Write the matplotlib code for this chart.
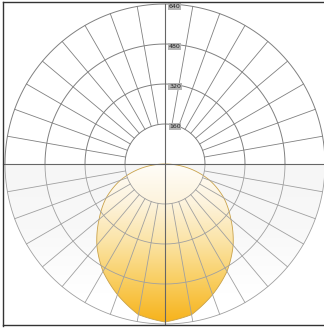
import numpy as np
import matplotlib
matplotlib.use("Agg")
import matplotlib.pyplot as plt
from matplotlib.patches import Polygon, Circle
from matplotlib.colors import LinearSegmentedColormap

# Polar luminous intensity data (cd/klm), symmetric about the nadir
angles_deg = [0, 10, 20, 30, 40, 50, 60, 70, 80, 90]
intensity = [632, 612, 556, 496, 424, 344, 272, 190, 96, 0]
ring_values = [160, 320, 480, 640]
ring_labels = ["160", "320", "480", "640"]
spoke_step = 10

fig = plt.figure(figsize=(3.24, 3.28), dpi=100)
ax = fig.add_axes([0, 0, 1, 1])
ax.set_xlim(-660, 636)
ax.set_ylim(-656, 656)
ax.set_aspect('auto')
ax.axis('off')

R = ring_values[-1]

# faint grey backdrop on lower half, fading downward
outer_clip = Circle((0, 0), R, transform=ax.transData)
fade = LinearSegmentedColormap.from_list('fade', ['#f6f6f6', '#f8f8f8', '#ffffff'])
bgimg = ax.imshow(np.linspace(0, 1, 128).reshape(-1, 1), extent=[-R, R, -520, 0],
                  origin='upper', cmap=fade, aspect='auto', zorder=0)
bgimg.set_clip_path(outer_clip)

# photometric curve (mirror to both sides)
th = np.deg2rad(np.array(angles_deg))
I = np.array(intensity)
th_full = np.concatenate([-th[::-1], th[1:]])
I_full = np.concatenate([I[::-1], I[1:]])
tf = np.linspace(th_full[0], th_full[-1], 361)
If = np.interp(tf, th_full, I_full)
xs = If * np.sin(tf)
ys = -If * np.cos(tf)
poly = Polygon(np.column_stack([xs, ys]), closed=True, facecolor='none',
               edgecolor='#c9a24a', lw=0.6, zorder=3)
ax.add_patch(poly)

cmap = LinearSegmentedColormap.from_list(
    'sol', ['#fffdf8', '#fdf3dc', '#fbe3a4', '#f9cd5e', '#f7b31c'])
grad = np.linspace(0, 1, 256).reshape(-1, 1)
img = ax.imshow(grad, extent=[-300, 300, -I.max(), 0], origin='upper',
                cmap=cmap, aspect='auto', zorder=2)
img.set_clip_path(poly)

# grid: rings
tt = np.linspace(0, 2 * np.pi, 721)
up = tt <= np.pi
for rv in ring_values:
    ax.plot(rv * np.cos(tt[up]), rv * np.sin(tt[up]), color='#808080', lw=0.7, zorder=4)
    ax.plot(rv * np.cos(tt[~up]), rv * np.sin(tt[~up]), color='#a0a0a0', lw=0.6, zorder=4)

# spokes
for a in range(0, 360, spoke_step):
    ar = np.deg2rad(a)
    c = '#808080' if 0 <= a <= 180 else '#a0a0a0'
    ax.plot([ring_values[0] * np.cos(ar), R * np.cos(ar)],
            [ring_values[0] * np.sin(ar), R * np.sin(ar)], color=c, lw=0.6, zorder=4)

# main axes through centre
ax.plot([-648, R], [0, 0], color='#666666', lw=0.8, zorder=5)
ax.plot([0, 0], [-R, R], color='#666666', lw=0.8, zorder=5)

# ring labels
for rv, lab in zip(ring_values, ring_labels):
    ax.text(40, rv - 10, lab, fontsize=4.5, color='#222222', ha='center', va='center',
            zorder=6, bbox=dict(boxstyle='square,pad=0.1', fc='#b5b5b5', ec='none'))

# frame (left, top, bottom)
ax.plot([-648, -648], [-648, 648], color='#333333', lw=1.0, zorder=6)
ax.plot([-648, 636], [648, 648], color='#333333', lw=1.0, zorder=6)
ax.plot([-648, 636], [-644, -644], color='#333333', lw=1.0, zorder=6)

fig.savefig('out.png', dpi=100)
